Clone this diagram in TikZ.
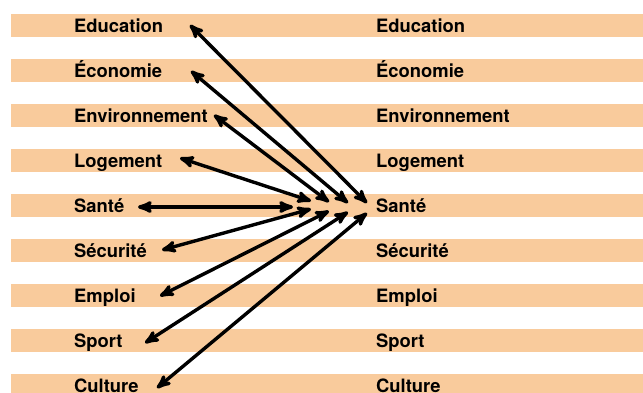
\documentclass[tikz,border=0pt]{standalone}
\usepackage{fontspec}
\setmainfont{TeX Gyre Heros}
\usepackage{xcolor}
\usetikzlibrary{arrows,positioning}
\definecolor{peach}{HTML}{F9CB9C}
\tikzset{
  stripe/.style={fill=peach,draw=none},
  topic/.style={anchor=base west,inner sep=0pt,
    font=\fontsize{18.4}{20}\selectfont\bfseries},
  links/.style={<->,>=stealth',line width=3.4pt}
}

\begin{document}
\begin{tikzpicture}[x=1pt,y=-1pt]
  \useasboundingbox (0,0) rectangle (643,392);

  % bands
  \fill[stripe] (11,14) rectangle (643,37);
  \fill[stripe] (11,59) rectangle (643,82);
  \fill[stripe] (11,104) rectangle (643,127);
  \fill[stripe] (11,149) rectangle (643,172);
  \fill[stripe] (11,194) rectangle (643,217);
  \fill[stripe] (11,239) rectangle (643,262);
  \fill[stripe] (11,284) rectangle (643,307);
  \fill[stripe] (11,329) rectangle (643,352);
  \fill[stripe] (11,374) rectangle (643,397);

  % left column
  \node[topic] (eduL) at (74,32) {Education};
  \node[topic] (ecoL) at (74,77) {Économie};
  \node[topic] (envL) at (74,122) {Environnement};
  \node[topic] (logL) at (74,167) {Logement};
  \node[topic] (sanL) at (74,212) {Santé};
  \node[topic] (secL) at (74,257) {Sécurité};
  \node[topic] (empL) at (74,302) {Emploi};
  \node[topic] (spoL) at (74,347) {Sport};
  \node[topic] (culL) at (74,392) {Culture};

  % right column
  \node[topic] (eduR) at (376,32) {Education};
  \node[topic] (ecoR) at (376,77) {Économie};
  \node[topic] (envR) at (376,122) {Environnement};
  \node[topic] (logR) at (376,167) {Logement};
  \node[topic] (sanR) at (376,212) {Santé};
  \node[topic] (secR) at (376,257) {Sécurité};
  \node[topic] (empR) at (376,302) {Emploi};
  \node[topic] (spoR) at (376,347) {Sport};
  \node[topic] (culR) at (376,392) {Culture};

  % arrow ends next to the labels
  \coordinate (eduT) at (190,25);
  \coordinate (ecoT) at (191,71);
  \coordinate (envT) at (214,115);
  \coordinate (logT) at (180,158);
  \coordinate (sanT) at (138,207);
  \coordinate (secT) at (162,250);
  \coordinate (empT) at (160,296);
  \coordinate (spoT) at (145,343);
  \coordinate (culT) at (157,388);

  % arrow ends in the middle
  \coordinate (eduH) at (367,203);
  \coordinate (ecoH) at (348,203);
  \coordinate (envH) at (329,202);
  \coordinate (logH) at (311,201);
  \coordinate (sanH) at (293,207);
  \coordinate (secH) at (311,209);
  \coordinate (empH) at (329,211);
  \coordinate (spoH) at (348,212);
  \coordinate (culH) at (367,213);

  \draw[links] (eduT) -- (eduH);
  \draw[links] (ecoT) -- (ecoH);
  \draw[links] (envT) -- (envH);
  \draw[links] (logT) -- (logH);
  \draw[links] (sanT) -- (sanH);
  \draw[links] (secT) -- (secH);
  \draw[links] (empT) -- (empH);
  \draw[links] (spoT) -- (spoH);
  \draw[links] (culT) -- (culH);
\end{tikzpicture}
\end{document}
